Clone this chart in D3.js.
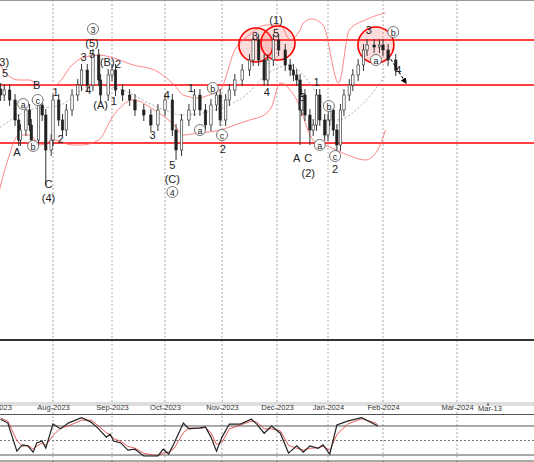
<!DOCTYPE html>
<html><head><meta charset="utf-8">
<script src="https://cdn.jsdelivr.net/npm/d3@7"></script>
<style>body{margin:0;background:#fff}svg{display:block;font-family:"Liberation Sans",Arial,sans-serif}</style>
</head><body>
<script>
// days counted from 2023-07-01
var monthDays = [0, 31, 62, 92, 123, 153, 184, 215, 244];
var monthLabels = ["Jul-2023","Aug-2023","Sep-2023","Oct-2023","Nov-2023","Dec-2023","Jan-2024","Feb-2024","Mar-2024"];
var barDays = [2,4,7,10,12,13,16,18,19,23,25,27,30,31,34,36,38,41,44,46,49,52,55,56,60,62,64,68,72,75,80,84,88,92,96,98,101,105,108,111,114,117,120,122,125,127,130,134,138,140,143,146,148,151,154,158,161,163,165,167,168,170,173,175,177,179,182,184,185,187,189,191,193,196,198,201,204,206,210,213,215,217,220];
var barClose = [1.0725,1.075,1.07,1.06,1.05,1.055,1.065,1.0575,1.05,1.0675,1.0625,1.045,1.05,1.07,1.06,1.055,1.065,1.0725,1.0775,1.085,1.0775,1.0925,1.08,1.0725,1.0825,1.085,1.075,1.0725,1.07,1.065,1.0625,1.0575,1.065,1.07,1.055,1.045,1.06,1.065,1.0725,1.065,1.0575,1.0675,1.0725,1.06,1.07,1.075,1.08,1.085,1.09,1.1,1.09,1.08,1.09,1.1,1.095,1.0875,1.085,1.0825,1.08,1.065,1.0725,1.0625,1.055,1.0575,1.0725,1.06,1.0525,1.06,1.065,1.055,1.0475,1.065,1.0725,1.0775,1.0825,1.0875,1.095,1.0975,1.0965,1.0975,1.095,1.09,1.085];
var spikeDays = [27, 52, 98, 140, 151, 167, 173, 189];
var spikePrice = [1.0275, 1.095, 1.04, 1.1025, 1.1025, 1.0475, 1.0475, 1.045];
var levels = [1.1, 1.0775, 1.0485];

var bandDays = [0,6,12,18,24,32,41,46,55,63,74,86,97,102,110,116,122,130,138,147,155,161,167,169,174,181,190,196,205,212,216];
var bandUpper = [1.09,1.0825,1.08,1.08,1.0775,1.0775,1.0875,1.091,1.0925,1.091,1.0875,1.085,1.0775,1.0725,1.071,1.0725,1.075,1.095,1.1025,1.1075,1.1075,1.1,1.105,1.1085,1.1105,1.1075,1.0785,1.105,1.11,1.1125,1.1135];
var lowerDays = [0,6,12,18,24,32,41,46,55,63,74,86,97,102,110,116,122,130,138,146,150,155,165,175,185,195,205,212,216];
var bandLower = [1.02,1.04,1.0525,1.0525,1.0475,1.05,1.0475,1.0475,1.05,1.0625,1.07,1.065,1.0575,1.0525,1.0535,1.054,1.055,1.0575,1.06,1.0625,1.0665,1.0785,1.07,1.05,1.0465,1.0425,1.04,1.045,1.055];
var midDays = [0,18,35,52,68,85,102,119,136,147,161,169,180,189,203,216];
var bandMid = [1.055,1.065,1.0675,1.0775,1.075,1.0675,1.0625,1.065,1.0725,1.0825,1.0875,1.0825,1.07,1.06,1.0675,1.0825];

var labels = [["(3)",3,1.089,0],["5",4.5,1.0835,0],["a",14.5,1.068,1],["A",11,1.044,0],["b",20,1.047,1],["B",22,1.0775,0],["c",22.5,1.07,1],["C",28.5,1.028,0],["(4)",28.5,1.021,0],["1",32.4,1.074,0],["2",35,1.0505,0],
  ["3",52,1.1055,1],["(5)",51.5,1.0985,0],["3",47,1.0915,0],["5",51.5,1.093,0],["4",49.5,1.075,0],["(B)",59.5,1.089,0],["2",65.5,1.088,0],["(A)",56,1.0675,0],["1",63,1.0695,0],
  ["4",93,1.0725,0],["3",85,1.0525,0],["5",96,1.0375,0],["(C)",96,1.0305,0],["4",96,1.024,1],["1",106,1.076,0],["b",118,1.076,1],["a",111,1.055,1],["c",123,1.0525,1],["2",123.5,1.0455,0],
  ["3",141,1.102,0],["4",147.5,1.074,0],["(1)",152.5,1.11,0],["5",152.5,1.1035,0],["A",165,1.041,0],["B",168.5,1.0715,0],["C",172,1.041,0],["(2)",172,1.0335,0],["1",177,1.079,0],
  ["b",184.5,1.067,1],["a",179,1.0475,1],["c",188,1.042,1],["2",188,1.0355,0],["3",207,1.105,0],["b",219,1.104,1],["a",211,1.09,1],["4",221,1.085,0]];
var circleDays = [141.5, 153.6, 211];
var circlePrice = [1.0975, 1.0985, 1.0975];
var circleR = [17, 17, 18];

var stochDays = [2,6,11,14,17,20,22,25,27,31,35,39,46,51,55,59,61,63,67,71,75,80,85,88,91,94,97,102,105,111,114,117,120,123,127,133,139,142,146,150,155,160,165,169,173,178,181,185,189,195,203,211,212];
var stochK = [94,86,28,41,39,26,45,49,34,84,74,86,97,88,74,57,63,49,45,30,32,18,18,18,32,22,45,86,74,76,78,57,28,57,84,84,94,84,65,80,65,24,39,26,39,34,41,22,82,90,97,82,80];
var stochD = [96,90,50,38,40,32,38,45,40,60,76,80,92,92,80,66,62,54,48,38,34,24,20,19,24,26,34,66,76,75,77,66,42,46,74,82,90,88,74,74,70,40,34,30,34,35,38,30,62,84,95,86,82];

var W = 534, H = 462;
var svg = d3.select("body").append("svg").attr("width", W).attr("height", H);
var x = d3.scaleLinear().domain(monthDays).range([-3, 53, 112, 165, 222, 277, 328, 383, 457]);
var y = d3.scaleLinear().domain([1.12, 0.95]).range([0, 340]);
var ys = d3.scaleLinear().domain([100, 0]).range([416.3, 464.7]);

// grid
svg.selectAll(".grid").data(monthDays.slice(1)).enter().append("line")
  .attr("x1", d => x(d)).attr("x2", d => x(d)).attr("y1", 0).attr("y2", H)
  .attr("stroke", "#aaa").attr("stroke-dasharray", "2,2");
svg.append("line").attr("x1", 0).attr("x2", W).attr("y1", 0.5).attr("y2", 0.5).attr("stroke", "#999");
svg.append("line").attr("x1", 0).attr("x2", W).attr("y1", 340).attr("y2", 340).attr("stroke", "#333").attr("stroke-width", 2);

// levels
svg.selectAll(".lvl").data(levels).enter().append("line")
  .attr("x1", 0).attr("x2", W).attr("y1", d => y(d)).attr("y2", d => y(d))
  .attr("stroke", "#f00").attr("stroke-width", 1.6);

// bands
function path(days, vals) { return d3.line().x((d, i) => x(days[i])).y(d => y(d)).curve(d3.curveMonotoneX)(vals); }
svg.append("path").attr("d", path(bandDays, bandUpper)).attr("fill", "none").attr("stroke", "#f66").attr("stroke-width", 0.8);
svg.append("path").attr("d", path(lowerDays, bandLower)).attr("fill", "none").attr("stroke", "#f66").attr("stroke-width", 0.8);
svg.append("path").attr("d", path(midDays, bandMid)).attr("fill", "none").attr("stroke", "#999").attr("stroke-width", 0.8).attr("stroke-dasharray", "2,2");

// red circles
svg.selectAll(".rc").data(circleDays).enter().append("circle")
  .attr("cx", d => x(d)).attr("cy", (d, i) => y(circlePrice[i])).attr("r", (d, i) => circleR[i])
  .attr("fill", "rgba(255,80,80,0.2)").attr("stroke", "#f00").attr("stroke-width", 1.6);

// bars
var bars = svg.append("g");
barDays.forEach(function(d, i) {
  var o = i ? barClose[i - 1] : barClose[0] + 0.003, c = barClose[i];
  var hi = Math.max(o, c) + 0.003, lo = Math.min(o, c) - 0.003;
  var s = spikeDays.indexOf(d);
  if (s >= 0) { hi = Math.max(hi, spikePrice[s]); lo = Math.min(lo, spikePrice[s]); }
  var cx = x(d);
  bars.append("line").attr("x1", cx).attr("x2", cx).attr("y1", y(hi)).attr("y2", y(lo)).attr("stroke", "#333");
  bars.append("rect").attr("x", cx - 1.2).attr("width", 2.4)
    .attr("y", y(Math.max(o, c))).attr("height", Math.max(1, y(Math.min(o, c)) - y(Math.max(o, c))))
    .attr("fill", c >= o ? "#fff" : "#222").attr("stroke", "#222").attr("stroke-width", 0.6);
});

// arrow
svg.append("defs").append("marker").attr("id", "ah").attr("viewBox", "0 0 10 10").attr("refX", 8).attr("refY", 5)
  .attr("markerWidth", 6).attr("markerHeight", 6).attr("orient", "auto")
  .append("path").attr("d", "M0,0L10,5L0,10z").attr("fill", "#000");
svg.append("line").attr("x1", x(217)).attr("y1", y(1.0925)).attr("x2", x(224)).attr("y2", y(1.0785))
  .attr("stroke", "#000").attr("stroke-dasharray", "3,2").attr("marker-end", "url(#ah)");

// wave labels
var lg = svg.append("g");
labels.forEach(function(l) {
  var cx = x(l[1]), cy = y(l[2]);
  if (l[3]) lg.append("circle").attr("cx", cx).attr("cy", cy).attr("r", 5.5).attr("fill", "#fff").attr("stroke", "#555").attr("stroke-width", 0.8);
  lg.append("text").attr("x", cx).attr("y", cy + 4).attr("text-anchor", "middle")
    .attr("font-size", l[3] ? 9 : 11).attr("fill", "#222").text(l[0]);
});

// time axis
svg.append("rect").attr("x", 0).attr("y", 402).attr("width", W).attr("height", 4).attr("fill", "#ddd");
svg.append("line").attr("x1", 0).attr("x2", W).attr("y1", 414.5).attr("y2", 414.5).attr("stroke", "#555");
var ax = svg.append("g").attr("transform", "translate(0,414)")
  .call(d3.axisTop(x).tickValues(monthDays).tickFormat((d, i) => monthLabels[i]).tickSize(0));
ax.select(".domain").remove();
ax.selectAll("text").attr("font-size", 7.5).attr("fill", "#333").attr("dy", "-0.1em");
svg.append("text").attr("x", 490).attr("y", 411).attr("font-size", 7.5).attr("fill", "#333").attr("text-anchor", "middle").text("Mar-13");
svg.append("line").attr("x1", 488).attr("x2", 488).attr("y1", 403).attr("y2", 406).attr("stroke", "#333");

// oscillator
[80, 20].forEach(v => svg.append("line").attr("x1", 0).attr("x2", W).attr("y1", ys(v)).attr("y2", ys(v)).attr("stroke", "#555"));
svg.append("line").attr("x1", 0).attr("x2", W).attr("y1", ys(50)).attr("y2", ys(50)).attr("stroke", "#777").attr("stroke-dasharray", "2,2");
svg.append("line").attr("x1", 0).attr("x2", W).attr("y1", 461).attr("y2", 461).attr("stroke", "#555");
var sl = d3.line().x((d, i) => x(stochDays[i])).y(d => ys(d));
svg.append("path").attr("d", sl(stochD)).attr("fill", "none").attr("stroke", "#d33").attr("stroke-width", 0.8);
svg.append("path").attr("d", sl(stochK)).attr("fill", "none").attr("stroke", "#222").attr("stroke-width", 1.2);
</script>
</body></html>
